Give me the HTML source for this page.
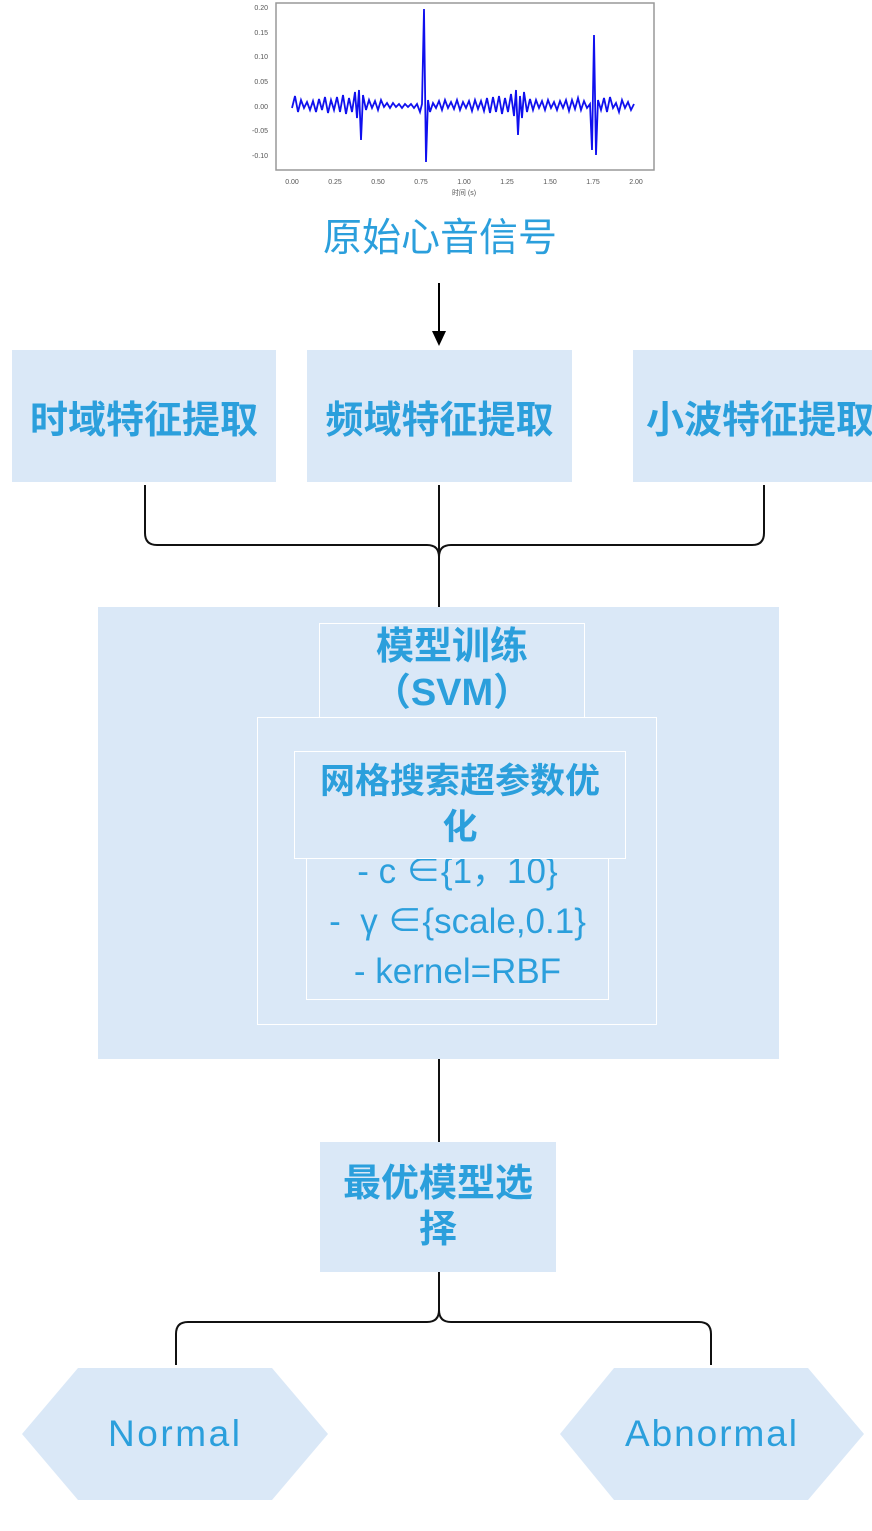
<!DOCTYPE html>
<html><head><meta charset="utf-8"><style>
body{margin:0;width:872px;height:1531px;background:#fff;position:relative;overflow:hidden;font-family:"Liberation Sans","Noto Sans CJK SC",sans-serif;}
.b{position:absolute;background:#dae8f7;color:#2b9fdc;display:flex;align-items:center;justify-content:center;text-align:center;box-sizing:border-box;}
.w{border:1.5px solid #fff;}
.t{position:absolute;color:#2b9fdc;text-align:center;}
</style></head><body>
<svg width="872" height="1531" style="position:absolute;left:0;top:0" xmlns="http://www.w3.org/2000/svg">
<rect x="276" y="3" width="378" height="167" fill="#fff" stroke="#999" stroke-width="1.5"/>
<g font-family="Liberation Sans" font-size="7" fill="#555" text-anchor="end">
<text x="268" y="10">0.20</text><text x="268" y="35">0.15</text><text x="268" y="59">0.10</text><text x="268" y="84">0.05</text><text x="268" y="109">0.00</text><text x="268" y="133">-0.05</text><text x="268" y="158">-0.10</text>
</g>
<g font-family="Liberation Sans" font-size="7" fill="#555" text-anchor="middle">
<text x="292" y="184">0.00</text><text x="335" y="184">0.25</text><text x="378" y="184">0.50</text><text x="421" y="184">0.75</text><text x="464" y="184">1.00</text><text x="507" y="184">1.25</text><text x="550" y="184">1.50</text><text x="593" y="184">1.75</text><text x="636" y="184">2.00</text>
<text x="464" y="195">时间 (s)</text>
</g>
<polyline fill="none" stroke="#1010ee" stroke-width="1.8" points="292,108 295,96 298,112 301,100 304,108 307,102 310,110 313,101 316,112 319,99 322,110 325,97 328,113 331,100 334,110 337,97 340,112 343,95 346,114 349,98 352,112 355,92 357,118 359,90 361,140 363,95 366,110 369,100 372,108 375,101 378,110 381,100 384,107 387,103 390,108 393,103 396,107 399,104 402,108 405,104 408,107 411,104 414,108 417,104 420,112 422,104 424,9 426,162 428,100 430,112 433,103 436,108 439,101 442,110 445,100 448,108 451,102 454,109 457,100 460,110 463,102 466,108 469,101 472,111 475,100 478,109 481,101 484,111 487,98 490,113 493,97 496,112 499,96 502,114 505,98 508,112 511,94 514,116 516,90 518,135 520,96 522,118 524,92 527,112 530,99 533,110 536,100 539,108 542,101 545,110 548,100 551,108 554,102 557,110 560,101 563,108 566,100 569,111 572,100 575,109 578,98 581,110 584,101 587,108 590,104 592,150 594,35 596,155 598,100 601,110 604,98 607,112 610,97 613,108 616,103 619,112 622,100 625,108 628,102 631,110 634,104"/>
<line x1="439" y1="283" x2="439" y2="334" stroke="#000" stroke-width="2"/>
<polygon points="432,331 446,331 439,346" fill="#000"/>
<path d="M145,485 V533 Q145,545 157,545 H427 Q439,545 439,557 M764,485 V533 Q764,545 752,545 H451 Q439,545 439,557 M439,485 V607" fill="none" stroke="#111" stroke-width="2"/>
<line x1="439" y1="1059" x2="439" y2="1142" stroke="#111" stroke-width="2"/>
<path d="M439,1272 V1310 Q439,1322 427,1322 H188 Q176,1322 176,1334 V1365 M439,1310 Q439,1322 451,1322 H699 Q711,1322 711,1334 V1365" fill="none" stroke="#111" stroke-width="2"/>
<polygon points="22,1434 78,1368 272,1368 328,1434 272,1500 78,1500" fill="#dae8f7"/>
<polygon points="560,1434 614,1368 808,1368 864,1434 808,1500 614,1500" fill="#dae8f7"/>
<text x="174" y="1446" font-family="Liberation Sans" font-size="37" fill="#2b9fdc" text-anchor="middle" textLength="132">Normal</text>
<text x="711" y="1446" font-family="Liberation Sans" font-size="37" fill="#2b9fdc" text-anchor="middle" textLength="172">Abnormal</text>
</svg>
<div class="t" style="left:240px;top:214px;width:400px;font-size:39px;line-height:50px;">原始心音信号</div>
<div class="b" style="left:12px;top:350px;width:264px;height:132px;font-size:38px;font-weight:bold;">时域特征提取</div>
<div class="b" style="left:307px;top:350px;width:265px;height:132px;font-size:38px;font-weight:bold;">频域特征提取</div>
<div class="b" style="left:633px;top:350px;width:239px;height:132px;font-size:38px;font-weight:bold;justify-content:flex-start;padding-left:13px;white-space:nowrap;overflow:hidden;">小波特征提取</div>
<div class="b" style="left:98px;top:607px;width:681px;height:452px;"></div>
<div class="b w" style="left:319px;top:623px;width:266px;height:95px;font-size:38px;line-height:46px;font-weight:bold;align-items:flex-start;">模型训练<br>（SVM）</div>
<div class="b w" style="left:257px;top:717px;width:400px;height:308px;"></div>
<div class="b w" style="left:306px;top:855px;width:303px;height:145px;font-size:35px;line-height:50px;align-items:flex-end;padding-bottom:2px;">- c ∈{1，10}<br>- &nbsp;γ ∈{scale,0.1}<br>- kernel=RBF</div>
<div class="b w" style="left:294px;top:751px;width:332px;height:108px;font-size:35px;line-height:46px;font-weight:bold;">网格搜索超参数优<br>化</div>
<div class="b" style="left:320px;top:1142px;width:236px;height:130px;font-size:38px;line-height:46px;font-weight:bold;">最优模型选<br>择</div>
</body></html>
